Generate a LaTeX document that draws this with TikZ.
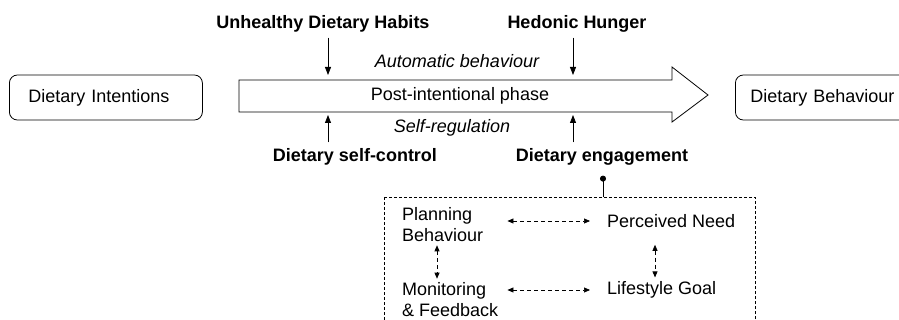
\documentclass[tikz,border=0pt]{standalone}
\usepackage{fontspec}
\setmainfont{Liberation Sans}
\usetikzlibrary{arrows.meta}

\begin{document}
\begin{tikzpicture}[
  x=1pt, y=-1pt,
  lab/.style={font=\fontsize{18}{21}\selectfont, inner sep=0pt},
  head/.style={lab, font=\fontsize{18}{21}\selectfont\bfseries},
  slant/.style={lab, font=\fontsize{18}{21}\selectfont\itshape},
  box/.style={lab, draw, line width=0.8pt, rounded corners=8pt, minimum height=45pt, text width=155pt, align=left},
  push/.style={-{Triangle[length=8pt,width=6pt]}, line width=0.8pt},
  link/.style={{Triangle[length=6pt,width=5pt]}-{Triangle[length=6pt,width=5pt]}, dash pattern=on 4pt off 3pt, line width=0.7pt}
]
\useasboundingbox (0,0) rectangle (899,320);
\clip (0,0) rectangle (899,320);

% Phases
\node[box, inner xsep=19pt, anchor=west] (intent) at (9,97.5) {Dietary Intentions};
\node[box, inner xsep=15pt, anchor=west] (behav) at (735,97.5) {Dietary Behaviour};
\draw[line width=0.8pt] (239,80) -- (672,80) -- (672,67) -- (708,95) -- (672,122) -- (672,112) -- (239,112) -- cycle;
\node[lab] (phase) at (460,96) {Post-intentional phase};

% Influences
\node[head] (habits) at (323,24) {Unhealthy Dietary Habits};
\node[head] (hunger) at (577,24) {Hedonic Hunger};
\node[slant] (auto) at (457,61) {Automatic behaviour};
\node[slant] (selfreg) at (452,128) {Self-regulation};
\node[head] (control) at (355,157) {Dietary self-control};
\node[head] (engage) at (602,157) {Dietary engagement};
\coordinate (in1) at (328,75);
\coordinate (in2) at (573,75);
\coordinate (up1) at (328,115);
\coordinate (up2) at (573,115);
\draw[push, shorten <=5pt] (in1 |- habits.south) -- (in1);
\draw[push, shorten <=5pt] (in2 |- hunger.south) -- (in2);
\draw[push, shorten <=6pt] (up1 |- control.north) -- (up1);
\draw[push, shorten <=6pt] (up2 |- engage.north) -- (up2);

% Engagement details
\coordinate (boxtop) at (603,197);
\draw[{Circle[length=6pt]}-, line width=0.8pt, shorten <=10pt] (boxtop |- engage.south) -- (boxtop);
\draw[dash pattern=on 3pt off 2pt, line width=0.7pt] (384,197) rectangle (755,335);
\node[lab, anchor=west, align=left] (plan) at (402,225) {Planning\\Behaviour};
\node[lab, anchor=west, align=left] (monitor) at (402,300) {Monitoring\\\& Feedback};
\node[lab, anchor=west] (need) at (607,221) {Perceived Need};
\node[lab, anchor=west] (goal) at (607,290) {Lifestyle Goal};
\coordinate (v1) at (437,0);
\coordinate (v2) at (655,0);
\draw[link, shorten <=24pt, shorten >=17pt] (plan.east |- need.west) -- (need.west);
\draw[link, shorten <=9pt, shorten >=17pt] (monitor.east |- goal.west) -- (goal.west);
\draw[link, shorten <=3pt, shorten >=4pt] (v1 |- plan.south) -- (v1 |- monitor.north);
\draw[link, shorten <=17pt, shorten >=4pt] (v2 |- need.south) -- (v2 |- goal.north);
\end{tikzpicture}
\end{document}
